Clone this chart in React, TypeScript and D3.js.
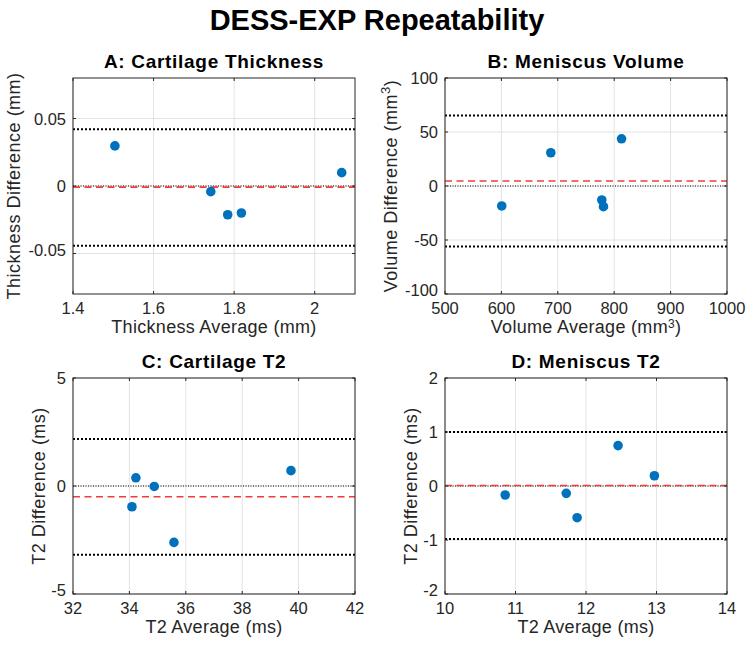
import React from "react";
import * as d3 from "d3";

const mainTitle = "DESS-EXP Repeatability";

// Panel A
const aAvg = [1.504, 1.742, 1.784, 1.818, 2.067];
const aDiff = [0.0297, -0.0042, -0.0213, -0.020, 0.0099];
const aLines = { mean: -0.0008, upper: 0.0421, lower: -0.0443 };
// Panel B
const bAvg = [600.6, 687.6, 778, 781, 813];
const bDiff = [-18.5, 30.8, -12.9, -19.1, 43.7];
const bLines = { mean: 4.6, upper: 65.3, lower: -56.1 };
// Panel C
const cAvg = [34.09, 34.23, 34.88, 35.58, 39.73];
const cDiff = [-0.96, 0.38, -0.02, -2.61, 0.71];
const cLines = { mean: -0.5, upper: 2.18, lower: -3.18 };
// Panel D
const dAvg = [10.854, 11.72, 11.874, 12.455, 12.97];
const dDiff = [-0.167, -0.136, -0.587, 0.748, 0.19];
const dLines = { mean: 0.01, upper: 1.0, lower: -0.98 };

const aXTicks = [1.4, 1.6, 1.8, 2.0];
const aXLabels = ["1.4", "1.6", "1.8", "2"];
const aYTicks = [-0.05, 0, 0.05];
const aYLabels = ["-0.05", "0", "0.05"];
const bXTicks = [500, 600, 700, 800, 900, 1000];
const bYTicks = [-100, -50, 0, 50, 100];
const cXTicks = [32, 34, 36, 38, 40, 42];
const cYTicks = [-5, 0, 5];
const dXTicks = [10, 11, 12, 13, 14];
const dYTicks = [-2, -1, 0, 1, 2];

const FONT = "'Liberation Sans', Arial, Helvetica, sans-serif";
const TXT = "#262626";

type PanelProps = {
  left: number; top: number; width: number; height: number;
  xDomain: [number, number]; yDomain: [number, number];
  xTicks: number[]; xLabels?: string[]; yTicks: number[]; yLabels?: string[];
  avg: number[]; diff: number[];
  lines: { mean: number; upper: number; lower: number };
  title: string; xLabel: React.ReactNode; yLabel: React.ReactNode;
  yLabelX: number;
};

function Panel(p: PanelProps) {
  const x = d3.scaleLinear().domain(p.xDomain).range([p.left, p.left + p.width]);
  const y = d3.scaleLinear().domain(p.yDomain).range([p.top + p.height, p.top]);
  const x0 = p.left, x1 = p.left + p.width, y0 = p.top, y1 = p.top + p.height;
  const tl = 3;
  const yMin = Math.min(...p.yTicks);
  return (
    <g>
      <text x={(x0 + x1) / 2} y={y0 - 10.5} textAnchor="middle" fontFamily={FONT} fontWeight="bold" fontSize={19} letterSpacing={0.7} fill="#000">{p.title}</text>
      {/* grid */}
      {p.xTicks.map((t, i) => (
        <line key={"gx" + i} x1={x(t)} x2={x(t)} y1={y0} y2={y1} stroke="#e3e3e3" strokeWidth={1} />
      ))}
      {p.yTicks.map((t, i) => (
        <line key={"gy" + i} x1={x0} x2={x1} y1={y(t)} y2={y(t)} stroke="#e3e3e3" strokeWidth={1} />
      ))}
      {/* zero line */}
      <line x1={x0} x2={x1} y1={y(0)} y2={y(0)} stroke="#000" strokeWidth={1} strokeDasharray="1 1.5" />
      {/* limits of agreement */}
      <line x1={x0} x2={x1} y1={y(p.lines.upper)} y2={y(p.lines.upper)} stroke="#000" strokeWidth={2} strokeDasharray="2 2" />
      <line x1={x0} x2={x1} y1={y(p.lines.lower)} y2={y(p.lines.lower)} stroke="#000" strokeWidth={2} strokeDasharray="2 2" />
      <line x1={x0} x2={x1} y1={y(p.lines.mean)} y2={y(p.lines.mean)} stroke="#f23c3c" strokeWidth={1.6} strokeDasharray="7 4.5" />
      {/* points */}
      {p.avg.map((a, i) => (
        <circle key={"pt" + i} cx={x(a)} cy={y(p.diff[i])} r={4.8} fill="#0072BD" />
      ))}
      {/* box */}
      <rect x={x0} y={y0} width={p.width} height={p.height} fill="none" stroke="#262626" strokeWidth={1} />
      {/* ticks */}
      {p.xTicks.map((t, i) => (
        <g key={"tx" + i}>
          <line x1={x(t)} x2={x(t)} y1={y1} y2={y1 - tl} stroke="#262626" />
          <line x1={x(t)} x2={x(t)} y1={y0} y2={y0 + tl} stroke="#262626" />
          <text x={x(t)} y={y1 + 19.5} textAnchor="middle" fontFamily={FONT} fontSize={16.5} fill={TXT}>
            {p.xLabels ? p.xLabels[i] : String(t)}
          </text>
        </g>
      ))}
      {p.yTicks.map((t, i) => (
        <g key={"ty" + i}>
          <line x1={x0} x2={x0 + tl} y1={y(t)} y2={y(t)} stroke="#262626" />
          <line x1={x1} x2={x1 - tl} y1={y(t)} y2={y(t)} stroke="#262626" />
          <text x={x0 - 7} y={y(t) + 6 - (t === yMin ? 4 : 0)} textAnchor="end" fontFamily={FONT} fontSize={16.5} fill={TXT}>
            {p.yLabels ? p.yLabels[i] : String(t)}
          </text>
        </g>
      ))}
      <text x={(x0 + x1) / 2} y={y1 + 39} textAnchor="middle" fontFamily={FONT} fontSize={18} letterSpacing={0.3} fill={TXT}>{p.xLabel}</text>
      <text transform={`translate(${p.yLabelX},${(y0 + y1) / 2}) rotate(-90)`} textAnchor="middle" fontFamily={FONT} fontSize={18} letterSpacing={0.5} fill={TXT}>{p.yLabel}</text>
    </g>
  );
}

export default function App() {
  const W = 754, H = 645;
  const pw = 282, ph = 216;
  return (
    <div style={{ position: "fixed", left: 0, top: 0 }}>
      <svg width={W} height={H} style={{ display: "block", background: "#fff" }}>
        <text x={377} y={30} textAnchor="middle" fontFamily={FONT} fontWeight="bold" fontSize={29} fill="#000">{mainTitle}</text>
        <Panel left={73} top={78} width={pw} height={ph} xDomain={[1.4, 2.1]} yDomain={[-0.08, 0.08]}
          xTicks={aXTicks} xLabels={aXLabels} yTicks={aYTicks} yLabels={aYLabels}
          avg={aAvg} diff={aDiff} lines={aLines} title="A: Cartilage Thickness"
          xLabel="Thickness Average (mm)" yLabel="Thickness Difference (mm)" yLabelX={20} />
        <Panel left={445} top={78} width={pw} height={ph} xDomain={[500, 1000]} yDomain={[-100, 100]}
          xTicks={bXTicks} yTicks={bYTicks}
          avg={bAvg} diff={bDiff} lines={bLines} title="B: Meniscus Volume"
          xLabel={<>Volume Average (mm<tspan dy={-5} fontSize={12}>3</tspan><tspan dy={5}>)</tspan></>}
          yLabel={<>Volume Difference (mm<tspan dy={-7} fontSize={13}>3</tspan><tspan dy={7}>)</tspan></>} yLabelX={397} />
        <Panel left={73} top={378} width={pw} height={ph} xDomain={[32, 42]} yDomain={[-5, 5]}
          xTicks={cXTicks} yTicks={cYTicks}
          avg={cAvg} diff={cDiff} lines={cLines} title="C: Cartilage T2"
          xLabel="T2 Average (ms)" yLabel="T2 Difference (ms)" yLabelX={45} />
        <Panel left={445} top={378} width={pw} height={ph} xDomain={[10, 14]} yDomain={[-2, 2]}
          xTicks={dXTicks} yTicks={dYTicks}
          avg={dAvg} diff={dDiff} lines={dLines} title="D: Meniscus T2"
          xLabel="T2 Average (ms)" yLabel="T2 Difference (ms)" yLabelX={417} />
      </svg>
    </div>
  );
}
